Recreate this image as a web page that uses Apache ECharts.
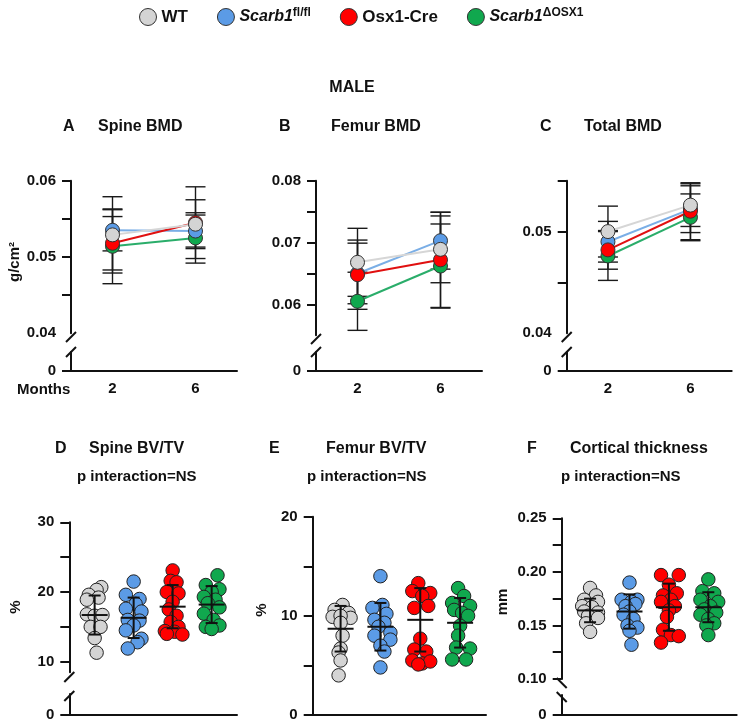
<!DOCTYPE html>
<html lang="en">
<head>
<meta charset="UTF-8" />
<title>MALE BMD and bone structure</title>
<script src="https://cdn.jsdelivr.net/npm/echarts@6.0.0/dist/echarts.min.js"></script>
<style>html, body { margin: 0; background: #fff; }</style>
</head>
<body>
<div id="main" style="width: 744px; height: 724px"></div>
<script>
// groups and time points
const groups = ['WT', 'Scarb1fl/fl', 'Osx1-Cre', 'Scarb1ΔOSX1'];
const months = ['2', '6'];

// A-C: mean and SD per group, [2 months, 6 months]
const spineBmdMean = [[0.0529, 0.0543], [0.0535, 0.0534], [0.0518, 0.0545], [0.0514, 0.0525]];
const spineBmdSd = [[0.0050, 0.0032], [0.0027, 0.0021], [0.0035, 0.0047], [0.0049, 0.0033]];
const femurBmdMean = [[0.0668, 0.0689], [0.0650, 0.0703], [0.0648, 0.0672], [0.0605, 0.0662]];
const femurBmdSd = [[0.0055, 0.0054], [0.0049, 0.0046], [0.0056, 0.0077], [0.0047, 0.0068]];
const totalBmdMean = [[0.0500, 0.0526], [0.0490, 0.0522], [0.0482, 0.0520], [0.0476, 0.0514]];
const totalBmdSd = [[0.0025, 0.0021], [0.0020, 0.0023], [0.0019, 0.0028], [0.0024, 0.0023]];

// D-F: individual animals as [jitter, value], per group
const spineBvtv = [
  [[0.17, 20.7], [0.05, 20.3], [-0.15, 19.6], [0.1, 19.2], [-0.2, 18.9], [-0.2, 16.8], [0.0, 16.6], [0.2, 16.7], [-0.1, 15.0], [0.15, 15.0], [0.0, 13.4], [0.05, 11.3]],
  [[0.0, 21.5], [-0.2, 19.6], [0.15, 19.0], [0.05, 18.3], [-0.2, 17.6], [0.2, 17.2], [-0.15, 16.0], [0.15, 15.9], [0.0, 15.2], [-0.2, 14.5], [0.2, 13.3], [0.1, 12.8], [-0.15, 11.9]],
  [[0.0, 23.1], [-0.05, 21.6], [0.1, 21.4], [-0.15, 20.0], [0.15, 19.8], [0.0, 18.6], [-0.1, 17.5], [0.1, 16.6], [-0.05, 15.7], [0.15, 15.0], [-0.2, 14.4], [0.05, 14.3], [0.25, 13.9], [-0.15, 14.0]],
  [[0.15, 22.4], [-0.15, 21.0], [0.2, 20.4], [0.0, 20.0], [-0.2, 19.3], [0.1, 18.9], [-0.1, 18.4], [0.2, 17.8], [-0.2, 16.9], [0.05, 16.0], [0.2, 15.2], [-0.15, 15.0], [0.0, 14.7]]
];
const spineBvtvMean = [16.7, 16.3, 17.9, 18.2];
const spineBvtvSd = [2.8, 2.9, 3.1, 2.65];

const femurBvtv = [
  [[0.05, 11.1], [-0.15, 10.6], [0.2, 10.3], [-0.2, 9.9], [0.25, 9.8], [0.0, 10.0], [0.0, 9.3], [0.05, 8.0], [0.0, 6.7], [-0.05, 6.3], [0.0, 5.5], [-0.05, 4.0]],
  [[0.0, 14.0], [0.05, 11.1], [-0.2, 10.8], [0.15, 10.2], [-0.15, 9.6], [0.1, 9.3], [-0.05, 8.9], [0.25, 8.3], [-0.15, 8.0], [0.25, 7.6], [0.0, 7.0], [0.1, 6.4], [0.0, 4.8]],
  [[-0.05, 13.3], [-0.2, 12.5], [0.25, 12.3], [0.05, 12.0], [0.2, 11.0], [-0.15, 10.8], [0.0, 7.7], [-0.15, 6.6], [0.15, 6.4], [-0.2, 5.5], [0.05, 5.2], [0.25, 5.4], [-0.05, 5.1]],
  [[-0.05, 12.8], [0.1, 12.0], [-0.2, 11.3], [0.25, 11.0], [-0.15, 10.6], [0.05, 10.3], [0.2, 10.0], [0.0, 9.0], [-0.05, 8.0], [-0.1, 6.8], [0.25, 6.7], [-0.2, 5.6], [0.15, 5.6]]
];
const femurBvtvMean = [8.7, 8.9, 9.6, 9.3];
const femurBvtvSd = [2.3, 2.4, 3.2, 2.5];

const corticalTh = [
  [[0.0, 0.185], [0.15, 0.178], [-0.15, 0.174], [0.2, 0.172], [-0.2, 0.168], [0.05, 0.167], [-0.15, 0.163], [0.2, 0.162], [-0.05, 0.159], [0.2, 0.157], [-0.1, 0.152], [0.0, 0.144]],
  [[0.0, 0.190], [-0.2, 0.174], [0.2, 0.174], [0.05, 0.172], [0.15, 0.170], [-0.1, 0.168], [0.0, 0.163], [-0.15, 0.160], [0.1, 0.156], [-0.05, 0.150], [0.2, 0.148], [0.0, 0.145], [0.05, 0.132]],
  [[-0.2, 0.197], [0.25, 0.197], [0.0, 0.188], [0.2, 0.180], [-0.15, 0.178], [0.05, 0.174], [-0.2, 0.172], [0.15, 0.168], [0.0, 0.164], [-0.05, 0.158], [-0.15, 0.146], [0.05, 0.141], [0.25, 0.140], [-0.2, 0.134]],
  [[0.0, 0.193], [-0.15, 0.182], [0.15, 0.180], [-0.2, 0.174], [0.25, 0.172], [0.05, 0.168], [-0.1, 0.165], [0.2, 0.162], [-0.2, 0.160], [0.0, 0.156], [0.15, 0.152], [-0.05, 0.150], [0.0, 0.141]]
];
const corticalThMean = [0.164, 0.163, 0.167, 0.167];
const corticalThSd = [0.011, 0.016, 0.022, 0.014];

const fills = ['#d4d4d4', '#5b9be6', '#ff0000', '#10a84e'];
const lineColors = ['#d6d6d6', '#7aaee6', '#e01010', '#2aad6a'];
const drawOrder = [3, 1, 2, 0]; // gray drawn on top

const FONT = '"Liberation Sans", Arial, sans-serif';
const AX = '#111';
const tickFont = { color: AX, fontSize: 15, fontWeight: 'bold', fontFamily: FONT };

const grids = [], xAxes = [], yAxes = [], series = [], graphic = [];

function addGrid(left, top, width, bottom) {
  grids.push({ left, top, width, height: bottom - top, outerBoundsMode: 'none' });
  return grids.length - 1;
}
function yAxisDef(gridIndex, min, max, ticks, labels, digits) {
  return {
    type: 'value', gridIndex, min, max,
    axisLine: { show: true, lineStyle: { color: AX, width: 2 } },
    axisTick: { show: true, length: 9, customValues: ticks, lineStyle: { color: AX, width: 2 } },
    axisLabel: Object.assign({ customValues: labels, margin: 15,
      formatter: v => (v === 0 ? '0' : v.toFixed(digits)) }, tickFont),
    splitLine: { show: false }
  };
}
function slash(cx, cy, dir) {
  graphic.push({ type: 'line', shape: { x1: cx - 5, y1: cy + 5 * dir, x2: cx + 5, y2: cy - 5 * dir },
    style: { stroke: AX, lineWidth: 2 } });
}
function text(x, y, str, size, align) {
  graphic.push({ type: 'text', x, y,
    style: { text: str, font: 'bold ' + size + 'px ' + FONT, fill: AX, textAlign: align || 'left', textVerticalAlign: 'middle' } });
}

// error bars for the BMD panels
function bmdBars(params, api) {
  const x = api.value(0);
  const lo = api.coord([x, api.value(1)]), hi = api.coord([x, api.value(2)]);
  const st = { stroke: '#1a1a1a', lineWidth: 1.4 };
  return { type: 'group', children: [
    { type: 'line', shape: { x1: lo[0], y1: lo[1], x2: hi[0], y2: hi[1] }, style: st },
    { type: 'line', shape: { x1: lo[0] - 10, y1: lo[1], x2: lo[0] + 10, y2: lo[1] }, style: st },
    { type: 'line', shape: { x1: hi[0] - 10, y1: hi[1], x2: hi[0] + 10, y2: hi[1] }, style: st }
  ] };
}
// mean + SD for the scatter panels
function dotBars(params, api) {
  const x = api.value(0);
  const lo = api.coord([x, api.value(1)]), hi = api.coord([x, api.value(2)]), m = api.coord([x, api.value(3)]);
  const st = { stroke: '#111', lineWidth: 2 };
  return { type: 'group', children: [
    { type: 'line', shape: { x1: lo[0], y1: lo[1], x2: hi[0], y2: hi[1] }, style: st },
    { type: 'line', shape: { x1: lo[0] - 6, y1: lo[1], x2: lo[0] + 6, y2: lo[1] }, style: st },
    { type: 'line', shape: { x1: hi[0] - 6, y1: hi[1], x2: hi[0] + 6, y2: hi[1] }, style: st },
    { type: 'line', shape: { x1: m[0] - 13, y1: m[1], x2: m[0] + 13, y2: m[1] }, style: st }
  ] };
}

// ---- row 1: BMD over time ----
const row1 = [
  { left: 71, width: 166, min: 0.04, max: 0.06, bottom: 333.3, ticks: [0.045, 0.05, 0.055, 0.06], labels: [0.04, 0.05, 0.06], mean: spineBmdMean, sd: spineBmdSd, s1: 337 },
  { left: 316, width: 166, min: 0.055, max: 0.08, bottom: 335.3, ticks: [0.06, 0.065, 0.07, 0.075, 0.08], labels: [0.06, 0.07, 0.08], mean: femurBmdMean, sd: femurBmdSd, s1: 339 },
  { left: 566.7, width: 165, min: 0.04, max: 0.055, bottom: 333.3, ticks: [0.045, 0.05, 0.055], labels: [0.04, 0.05], mean: totalBmdMean, sd: totalBmdSd, s1: 337 }
];
row1.forEach(p => {
  const gu = addGrid(p.left, 180.7, p.width, p.bottom);
  const gl = addGrid(p.left, 352, p.width, 370.7);
  xAxes.push({ type: 'category', gridIndex: gu, data: months, show: false });
  xAxes.push({ type: 'category', gridIndex: gl, data: months,
    axisLine: { lineStyle: { color: AX, width: 2 } },
    axisTick: { alignWithLabel: true, length: 6, lineStyle: { color: AX, width: 2 } },
    axisLabel: Object.assign({ margin: 11 }, tickFont) });
  yAxes.push(yAxisDef(gu, p.min, p.max, p.ticks, p.labels, 2));
  yAxes.push(yAxisDef(gl, 0, 1, [0], [0], 0));
  const xi = xAxes.length - 2, yi = yAxes.length - 2;
  drawOrder.forEach(g => {
    series.push({ type: 'custom', xAxisIndex: xi, yAxisIndex: yi, z: 1,
      renderItem: bmdBars, encode: { x: 0, y: [1, 2] }, silent: true,
      data: months.map((m, i) => [i, p.mean[g][i] - p.sd[g][i], p.mean[g][i] + p.sd[g][i]]) });
    series.push({ type: 'line', name: groups[g], xAxisIndex: xi, yAxisIndex: yi, z: 3,
      data: p.mean[g], symbol: 'circle', symbolSize: 14, showSymbol: true,
      lineStyle: { color: lineColors[g], width: 2 },
      itemStyle: { color: fills[g], borderColor: '#333', borderWidth: 1 } });
  });
  slash(p.left, p.s1, 1);
  slash(p.left, 352, 1);
});

// ---- row 2: individual animals ----
const row2 = [
  { left: 69.3, width: 167.7, xMax: 4.3, off: 0.65, top: 522.3, min: 8.5, max: 30, bottom: 672.2, ticks: [10, 15, 20, 25, 30], labels: [10, 20, 30], digits: 0,
    pts: spineBvtv, mean: spineBvtvMean, sd: spineBvtvSd, lowTop: 694, s: [677, 696], dir: 1 },
  { left: 312.7, width: 173.3, xMax: 4.35, off: 0.7, top: 516.7, min: 0, max: 20, bottom: 715, ticks: [0, 5, 10, 15, 20], labels: [0, 10, 20], digits: 0,
    pts: femurBvtv, mean: femurBvtvMean, sd: femurBvtvSd, lowTop: null },
  { left: 561.7, width: 175, xMax: 4.44, off: 0.72, top: 518.3, min: 0.10, max: 0.25, bottom: 679, ticks: [0.1, 0.125, 0.15, 0.175, 0.2, 0.225, 0.25], labels: [0.1, 0.15, 0.2, 0.25], digits: 2,
    pts: corticalTh, mean: corticalThMean, sd: corticalThSd, lowTop: 695, s: [683, 697], dir: -1 }
];
const xLineAxis = (gridIndex, max, shown) => ({ type: 'value', gridIndex, min: 0, max, show: shown,
  axisLine: { show: true, onZero: false, lineStyle: { color: AX, width: 2 } },
  axisTick: { show: false }, axisLabel: { show: false }, splitLine: { show: false } });
row2.forEach(p => {
  const gu = addGrid(p.left, p.top, p.width, p.bottom);
  xAxes.push(xLineAxis(gu, p.xMax, p.lowTop === null));
  yAxes.push(yAxisDef(gu, p.min, p.max, p.ticks, p.labels, p.digits));
  const xi = xAxes.length - 1, yi = yAxes.length - 1;
  if (p.lowTop !== null) {
    const gl = addGrid(p.left, p.lowTop, p.width, 715);
    xAxes.push(xLineAxis(gl, p.xMax, true));
    yAxes.push(yAxisDef(gl, 0, 1, [0], [0], 0));
    slash(p.left, p.s[0], p.dir);
    slash(p.left, p.s[1], p.dir);
  }
  groups.forEach((name, g) => {
    series.push({ type: 'scatter', name, xAxisIndex: xi, yAxisIndex: yi, z: 2,
      symbol: 'circle', symbolSize: 13.5,
      itemStyle: { color: fills[g], borderColor: '#222', borderWidth: 1, opacity: 1 },
      data: p.pts[g].map(d => [g + p.off + d[0], d[1]]) });
  });
  series.push({ type: 'custom', xAxisIndex: xi, yAxisIndex: yi, z: 5, silent: true,
    renderItem: dotBars, encode: { x: 0, y: [1, 2, 3] },
    data: groups.map((n, g) => [g + p.off, p.mean[g] - p.sd[g], p.mean[g] + p.sd[g], p.mean[g]]) });
});

// ---- titles and axis names ----
text(352, 88, 'MALE', 16, 'center');
text(63, 127, 'A', 16); text(98, 127, 'Spine BMD', 16);
text(279, 127, 'B', 16); text(331, 127, 'Femur BMD', 16);
text(540, 127, 'C', 16); text(584, 127, 'Total BMD', 16);
text(55, 449, 'D', 16); text(89, 449, 'Spine BV/TV', 16);
text(269, 449, 'E', 16); text(326, 449, 'Femur BV/TV', 16);
text(527, 449, 'F', 16); text(570, 449, 'Cortical thickness', 16);
text(77, 477, 'p interaction=NS', 15); text(307, 477, 'p interaction=NS', 15); text(561, 477, 'p interaction=NS', 15);
text(17, 390, 'Months', 15);
const vName = (x, y, str) => graphic.push({ type: 'text', x, y, rotation: Math.PI / 2,
  style: { text: str, font: 'bold 15px ' + FONT, fill: AX, textAlign: 'center', textVerticalAlign: 'middle' } });
vName(15, 262, 'g/cm²');
vName(16, 607, '%');
vName(262, 610, '%');
vName(503, 602, 'mm');

const legendText = {
  'WT': '{b|WT}',
  'Scarb1fl/fl': '{i|Scarb1}{s|fl/fl}',
  'Osx1-Cre': '{b|Osx1-Cre}',
  'Scarb1ΔOSX1': '{i|Scarb1}{s|ΔOSX1}'
};

const myChart = echarts.init(document.getElementById('main'));
myChart.setOption({
  animation: false,
  backgroundColor: '#fff',
  legend: {
    data: groups, left: 134, top: 2, icon: 'circle', itemWidth: 17, itemHeight: 17, itemGap: 29,
    itemStyle: { borderColor: '#333', borderWidth: 1 },
    formatter: name => legendText[name],
    textStyle: {
      color: AX, fontFamily: FONT,
      rich: {
        b: { fontSize: 17, fontWeight: 'bold', fontFamily: FONT, color: AX, lineHeight: 20 },
        i: { fontSize: 16, fontWeight: 'bold', fontStyle: 'italic', fontFamily: FONT, color: AX, lineHeight: 20 },
        s: { fontSize: 12, fontWeight: 'bold', fontFamily: FONT, color: AX, verticalAlign: 'top', lineHeight: 13 }
      }
    }
  },
  grid: grids,
  xAxis: xAxes,
  yAxis: yAxes,
  series: series,
  graphic: graphic
});
</script>
</body>
</html>
